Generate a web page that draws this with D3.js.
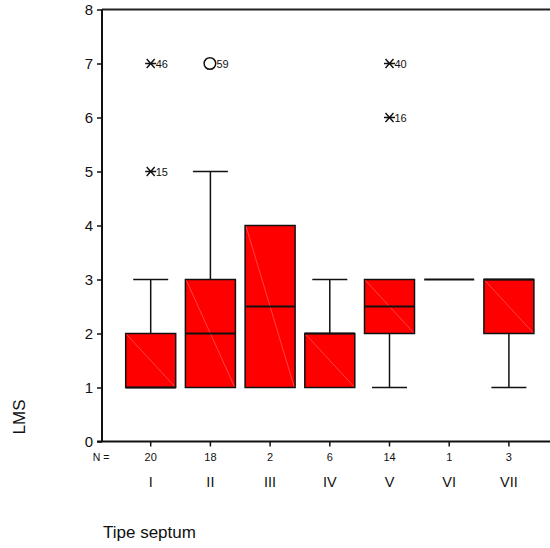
<!DOCTYPE html>
<html>
<head>
<meta charset="utf-8">
<script src="https://cdn.jsdelivr.net/npm/d3@7"></script>
<style>
  body { margin: 0; background: #fff; }
  svg { display: block; font-family: "Liberation Sans", Arial, sans-serif; }
</style>
</head>
<body>
<svg id="chart" width="550" height="548"></svg>
<script>
const categories = ["I", "II", "III", "IV", "V", "VI", "VII"];
const nValues = [20, 18, 2, 6, 14, 1, 3];
const q1 = [1, 1, 1, 1, 2, 3, 2];
const medians = [1, 2, 2.5, 2, 2.5, 3, 3];
const q3 = [2, 3, 4, 2, 3, 3, 3];
const whiskerLow = [1, 1, 1, 1, 1, 3, 1];
const whiskerHigh = [3, 5, 4, 3, 3, 3, 3];
const outlierCats = ["I", "I", "II", "V", "V"];
const outlierValues = [7, 5, 7, 7, 6];
const outlierLabels = ["46", "15", "59", "40", "16"];
const outlierTypes = ["extreme", "extreme", "outlier", "extreme", "extreme"];
const yTicks = [0, 1, 2, 3, 4, 5, 6, 7, 8];

const svg = d3.select("#chart");
const axisX = 102, plotTop = 9.5, plotBottom = 441.5, rightEnd = 550;

const y = d3.scaleLinear().domain([0, 8]).range([plotBottom, plotTop]);
const x = d3.scaleBand().domain(categories).range([120.85, 538.75]).padding(0);
const cx = c => x(c) + x.bandwidth() / 2;
const boxW = 50, capW = 35;

// frame lines
svg.append("line").attr("x1", axisX).attr("x2", rightEnd).attr("y1", plotTop).attr("y2", plotTop)
  .attr("stroke", "#222").attr("stroke-width", 2);

// y axis
const yAxis = d3.axisLeft(y).tickValues(yTicks).tickSize(5).tickPadding(4).tickFormat(d3.format("d"));
const gy = svg.append("g").attr("transform", `translate(${axisX},0)`).call(yAxis);
gy.select(".domain").attr("stroke", "#111").attr("stroke-width", 2).attr("d", `M0,${plotTop}V${plotBottom}`);
gy.selectAll(".tick line").attr("stroke", "#111").attr("stroke-width", 1.5);
gy.selectAll(".tick text").attr("font-size", 15).attr("fill", "#111").attr("font-family", "Liberation Sans, Arial, sans-serif");

// x axis
const xAxis = d3.axisBottom(x).tickSize(5).tickFormat("");
const gx = svg.append("g").attr("transform", `translate(0,${plotBottom})`).call(xAxis);
gx.select(".domain").attr("stroke", "#111").attr("stroke-width", 2).attr("d", `M${axisX - 5},0H${rightEnd}`);
gx.selectAll(".tick line").attr("stroke", "#111").attr("stroke-width", 1.5);

// N labels
svg.append("text").attr("x", 101).attr("y", 461).attr("text-anchor", "middle")
  .attr("font-size", 10.5).attr("fill", "#111").text("N =");
svg.selectAll(".nlab").data(categories).enter().append("text")
  .attr("x", d => cx(d)).attr("y", 461).attr("text-anchor", "middle")
  .attr("font-size", 11).attr("fill", "#111").text((d, i) => nValues[i]);

// category labels
svg.selectAll(".clab").data(categories).enter().append("text")
  .attr("x", d => cx(d)).attr("y", 487).attr("text-anchor", "middle")
  .attr("font-size", 14.5).attr("fill", "#111").text(d => d);

// axis titles
svg.append("text").attr("x", 103).attr("y", 538).attr("font-size", 17).attr("fill", "#111").text("Tipe septum");
svg.append("text").attr("transform", "translate(25,417) rotate(-90)").attr("text-anchor", "middle")
  .attr("font-size", 17).attr("fill", "#111").text("LMS");

// boxes
const g = svg.append("g");
categories.forEach((c, i) => {
  const X = cx(c);
  if (whiskerHigh[i] > q3[i]) {
    g.append("line").attr("x1", X).attr("x2", X).attr("y1", y(q3[i])).attr("y2", y(whiskerHigh[i])).attr("stroke", "#111").attr("stroke-width", 1.5);
    g.append("line").attr("x1", X - capW / 2).attr("x2", X + capW / 2).attr("y1", y(whiskerHigh[i])).attr("y2", y(whiskerHigh[i])).attr("stroke", "#111").attr("stroke-width", 1.5);
  }
  if (whiskerLow[i] < q1[i]) {
    g.append("line").attr("x1", X).attr("x2", X).attr("y1", y(q1[i])).attr("y2", y(whiskerLow[i])).attr("stroke", "#111").attr("stroke-width", 1.5);
    g.append("line").attr("x1", X - capW / 2).attr("x2", X + capW / 2).attr("y1", y(whiskerLow[i])).attr("y2", y(whiskerLow[i])).attr("stroke", "#111").attr("stroke-width", 1.5);
  }
  if (q3[i] > q1[i]) {
    g.append("rect").attr("x", X - boxW / 2).attr("y", y(q3[i])).attr("width", boxW).attr("height", y(q1[i]) - y(q3[i]))
      .attr("fill", "#ff0000").attr("stroke", "#111").attr("stroke-width", 1.5);
    g.append("line").attr("x1", X - boxW / 2 + 1).attr("y1", y(q3[i]) + 1).attr("x2", X + boxW / 2 - 1).attr("y2", y(q1[i]) - 1)
      .attr("stroke", "#ff7070").attr("stroke-width", 0.6);
  }
  g.append("line").attr("x1", X - boxW / 2).attr("x2", X + boxW / 2).attr("y1", y(medians[i])).attr("y2", y(medians[i]))
    .attr("stroke", "#111").attr("stroke-width", 2);
});

// outliers
outlierCats.forEach((c, i) => {
  const X = cx(c), Y = y(outlierValues[i]);
  if (outlierTypes[i] === "extreme") {
    const s = 5.5;
    g.append("path").attr("d", `M${X - s},${Y}H${X + s}M${X - 4},${Y - 4.5}L${X + 4},${Y + 4.5}M${X - 4},${Y + 4.5}L${X + 4},${Y - 4.5}`)
      .attr("stroke", "#111").attr("stroke-width", 1.4).attr("fill", "none");
    g.append("text").attr("x", X + 5).attr("y", Y + 4).attr("font-size", 11).attr("fill", "#111").text(outlierLabels[i]);
  } else {
    g.append("circle").attr("cx", X - 0.5).attr("cy", Y).attr("r", 5.8).attr("fill", "none").attr("stroke", "#111").attr("stroke-width", 1.5);
    g.append("text").attr("x", X + 6).attr("y", Y + 4).attr("font-size", 11).attr("fill", "#111").text(outlierLabels[i]);
  }
});
</script>
</body>
</html>
